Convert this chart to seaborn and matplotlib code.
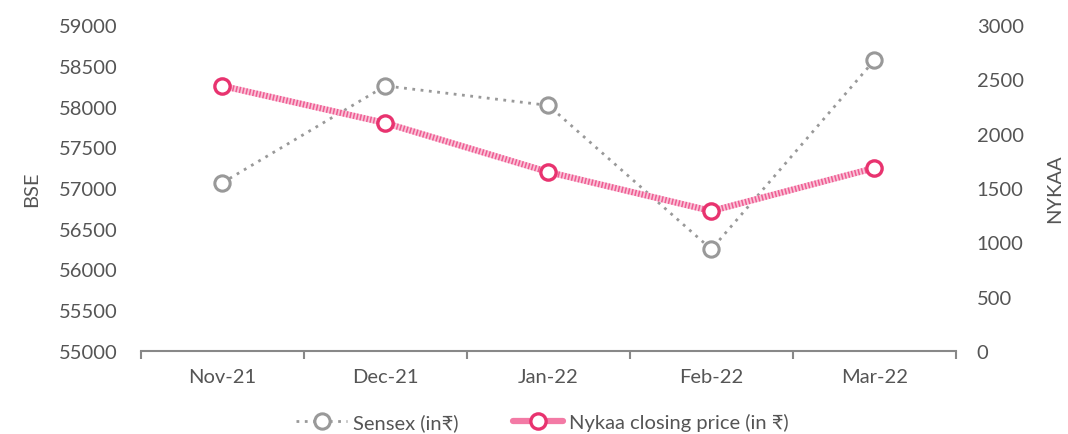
import pandas as pd
import numpy as np
import matplotlib
matplotlib.use('Agg')
import matplotlib.pyplot as plt
from matplotlib.lines import Line2D
import seaborn as sns

# Chart data
months = ['Nov-21', 'Dec-21', 'Jan-22', 'Feb-22', 'Mar-22']
sensex = [57064.87, 58253.82, 58014.17, 56247.28, 58568.51]
nykaa = [2440, 2098, 1647, 1288, 1684]

df = pd.DataFrame({'Month': months, 'Sensex': sensex, 'Nykaa': nykaa})
df['x'] = range(len(months))

sns.set_style('white')
plt.rcParams['font.family'] = ['Lato', 'DejaVu Sans']
fs = 14.5

grey = '#999999'
pink = '#e8336f'
text_col = '#555555'

fig = plt.figure(figsize=(10.68, 4.35), dpi=100)
ax = fig.add_axes([0.132, 0.191, 0.763, 0.749])
ax2 = ax.twinx()

# Sensex - dotted grey
sns.lineplot(data=df, x='x', y='Sensex', ax=ax, color=grey, linestyle=(0, (1, 2)),
             linewidth=2, marker='o', markersize=11, markerfacecolor='white',
             markeredgecolor=grey, markeredgewidth=2.2, zorder=2)

# Nykaa - hatched-looking pink line
sns.lineplot(data=df, x='x', y='Nykaa', ax=ax2, color='#f9c3d8', linewidth=4.5, zorder=2)
sns.lineplot(data=df, x='x', y='Nykaa', ax=ax2, color='#ef5c92', linewidth=4.5,
             linestyle=(0, (0.25, 0.3)), zorder=3)
sns.lineplot(data=df, x='x', y='Nykaa', ax=ax2, color=pink, linewidth=0,
             marker='o', markersize=11, markerfacecolor='white',
             markeredgecolor=pink, markeredgewidth=2.4, zorder=4)

ax.set_xlim(-0.5, len(months) - 0.5)
ax.set_ylim(55000, 59000)
ax.set_yticks(np.arange(55000, 59001, 500))
ax2.set_ylim(0, 3000)
ax2.set_yticks(np.arange(0, 3001, 500))

ax.set_xticks(range(len(months)))
ax.set_xticklabels(months, fontsize=fs)
ax.set_xticks(np.arange(-0.5, len(months), 1), minor=True)
ax.tick_params(axis='x', which='both', bottom=True)
ax.tick_params(axis='x', which='major', length=0, pad=12, colors=text_col)
ax.tick_params(axis='x', which='minor', length=6, width=1.5, color='#888888', direction='out')
ax.tick_params(axis='y', length=0, pad=17, colors=text_col, labelsize=fs)
ax2.tick_params(axis='y', length=0, pad=15, colors=text_col, labelsize=fs)

ax.set_xlabel('')
ax.set_ylabel('BSE', color=text_col, fontsize=fs)
ax.yaxis.set_label_coords(-0.124, 0.5)
ax2.set_ylabel('NYKAA', color=text_col, fontsize=fs)
ax2.yaxis.set_label_coords(1.111, 0.5)

for a in (ax, ax2):
    for s in ['top', 'left', 'right', 'bottom']:
        a.spines[s].set_visible(False)
ax.spines['bottom'].set_visible(True)
ax.spines['bottom'].set_color('#888888')
ax.spines['bottom'].set_linewidth(1.5)

handles = [
    Line2D([], [], color=grey, linestyle=(0, (1, 2)), linewidth=2, marker='o', markersize=11,
           markerfacecolor='white', markeredgecolor=grey, markeredgewidth=2.2),
    Line2D([], [], color='#f37aa5', linewidth=4.5, marker='o', markersize=11,
           markerfacecolor='white', markeredgecolor=pink, markeredgewidth=2.4),
]
fig.legend(handles, ['Sensex (in₹)', 'Nykaa closing price (in ₹)'], loc='center',
           bbox_to_anchor=(0.508, 0.027), ncol=2, frameon=False, handlelength=2.5,
           handletextpad=0.3, columnspacing=2.7, labelcolor=text_col, fontsize=fs)

fig.savefig('out.png', dpi=100)
